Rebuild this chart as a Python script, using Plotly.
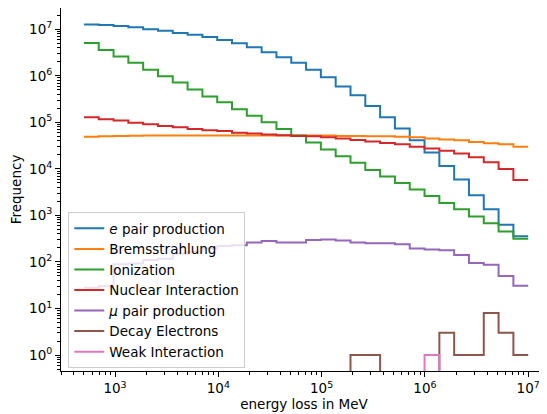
import numpy as np
import plotly.graph_objects as go

# histogram bin edges (log-spaced, 30 bins from 500 MeV to 1e7 MeV)
bin_edges = np.logspace(np.log10(500), 7, 31)

series_names = ["<i>e</i> pair production", "Bremsstrahlung", "Ionization",
                "Nuclear Interaction", "<i>μ</i> pair production",
                "Decay Electrons", "Weak Interaction"]

e_pair = [1.26e7, 1.23e7, 1.17e7, 1.10e7, 1.0e7, 9.3e6, 8.3e6, 7.6e6, 6.8e6, 5.9e6,
          5.0e6, 4.1e6, 3.2e6, 2.5e6, 1.9e6, 1.35e6, 9.3e5, 5.9e5, 3.8e5, 2.24e5,
          1.29e5, 7.4e4, 4.1e4, 2.24e4, 1.15e4, 5900, 2700, 1350, 630, 355]
brems = [4.9e4, 5.0e4, 5.1e4, 5.15e4, 5.2e4, 5.2e4, 5.2e4, 5.2e4, 5.2e4, 5.2e4,
         5.2e4, 5.2e4, 5.2e4, 5.2e4, 5.2e4, 5.2e4, 5.2e4, 5.1e4, 5.1e4, 5.0e4,
         5.0e4, 4.9e4, 4.8e4, 4.5e4, 4.3e4, 4.1e4, 3.8e4, 3.55e4, 3.4e4, 3.0e4]
ionization = [5.1e6, 3.6e6, 2.6e6, 1.9e6, 1.35e6, 9.8e5, 7.2e5, 5.1e5, 3.6e5, 2.7e5,
              1.9e5, 1.38e5, 1.0e5, 7.2e4, 5.2e4, 3.7e4, 2.6e4, 1.86e4, 1.35e4, 9500,
              6900, 5000, 3600, 2600, 1860, 1350, 950, 680, 450, 316]
nuclear = [1.29e5, 1.17e5, 1.10e5, 9.8e4, 9.1e4, 8.3e4, 7.8e4, 7.2e4, 6.8e4, 6.5e4,
           6.0e4, 5.75e4, 5.5e4, 5.25e4, 5.1e4, 5.0e4, 4.8e4, 4.5e4, 4.2e4, 3.9e4,
           3.6e4, 3.4e4, 3.0e4, 2.75e4, 2.45e4, 2.14e4, 1.78e4, 1.38e4, 1.0e4, 5750]
mu_pair = [28, 30, 89, 93, 110, 117, 151, 166, 195, 219,
           229, 263, 282, 263, 263, 295, 302, 288, 263, 251,
           251, 240, 195, 186, 178, 141, 95, 87, 50, 31]
decay = [0, 0, 0, 0, 0, 0, 0, 0, 0, 0,
         0, 0, 0, 0, 0, 0, 0, 0, 1, 1,
         0, 0, 0, 0, 3, 1, 1, 8, 3, 1]
weak = [0, 0, 0, 0, 0, 0, 0, 0, 0, 0,
        0, 0, 0, 0, 0, 0, 0, 0, 0, 0,
        0, 0, 0, 1, 0, 0, 0, 0, 0, 0]

colors = ["#1f77b4", "#ff7f0e", "#2ca02c", "#d62728", "#9467bd", "#8c564b", "#e377c2"]

x_ticks = [1e3, 1e4, 1e5, 1e6, 1e7]
x_ticktext = ["10<sup>3</sup>", "10<sup>4</sup>", "10<sup>5</sup>", "10<sup>6</sup>", "10<sup>7</sup>"]
y_ticks = [1e0, 1e1, 1e2, 1e3, 1e4, 1e5, 1e6, 1e7]
y_ticktext = ["10<sup>%d</sup>" % i for i in range(8)]

minor_x = [m * 10 ** d for d in range(2, 8) for m in range(2, 10)]
minor_y = [m * 10 ** d for d in range(-1, 8) for m in range(2, 10)]

FS = 13.5
fnt = dict(family="DejaVu Sans", size=FS, color="black")

fig = go.Figure()
all_series = [e_pair, brems, ionization, nuclear, mu_pair, decay, weak]
for name, vals, col in zip(series_names, all_series, colors):
    v = np.asarray(vals, dtype=float)
    v = np.where(v > 0, v, 1e-3)  # empty bins drop below the log axis
    y = np.append(v, v[-1])
    fig.add_trace(go.Scatter(x=bin_edges, y=y, mode="lines", name=name,
                             line=dict(color=col, width=2, shape="hv")))

axis_common = dict(
    type="log", showgrid=False, zeroline=False, automargin=False,
    showline=True, linecolor="black", linewidth=1,
    ticks="outside", ticklen=5, tickwidth=1, tickcolor="black",
    tickfont=fnt,
)

# the page body has an 8px margin, so the figure is sized to fit the window
fig.update_layout(
    width=539, height=406,
    margin=dict(l=53, r=0, t=0, b=43),
    paper_bgcolor="white", plot_bgcolor="white",
    font=fnt,
    xaxis=dict(**axis_common, range=[2.477, 7.182], mirror=True,
               tickvals=x_ticks, ticktext=x_ticktext,
               minor=dict(tickvals=minor_x, ticks="outside", ticklen=2.8,
                          tickwidth=0.8, tickcolor="black"),
               title=dict(text="energy loss in MeV", standoff=2, font=fnt)),
    yaxis=dict(**axis_common, range=[-0.343, 7.457],
               tickvals=y_ticks, ticktext=y_ticktext,
               minor=dict(tickvals=minor_y, ticks="outside", ticklen=2.8,
                          tickwidth=0.8, tickcolor="black"),
               title=dict(text="Frequency", standoff=4, font=fnt)),
    legend=dict(x=0.015, y=0.008, xanchor="left", yanchor="bottom",
                bgcolor="rgba(255,255,255,0.8)", bordercolor="#cccccc", borderwidth=1,
                font=fnt),
    showlegend=True,
)

fig.write_html("out.html")
